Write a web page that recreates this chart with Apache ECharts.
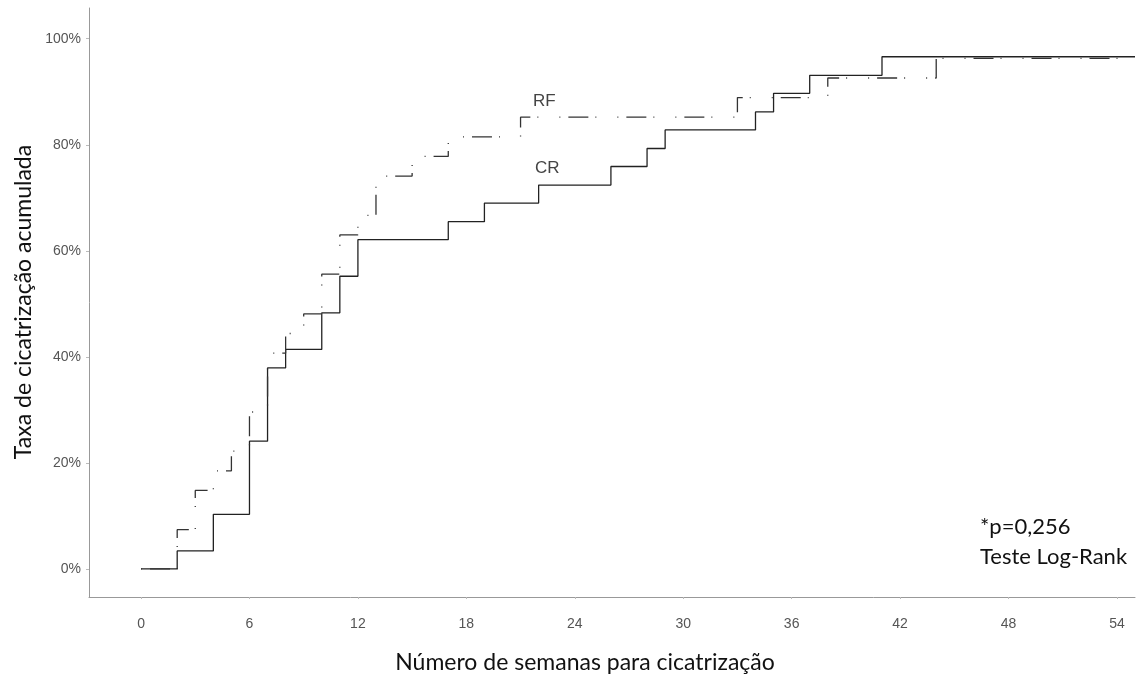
<!DOCTYPE html>
<html>
<head>
<meta charset="utf-8">
<script src="https://cdn.jsdelivr.net/npm/echarts@6/dist/echarts.min.js"></script>
<style>html,body{margin:0;padding:0;background:#fff;}#c{width:1139px;height:676px;}</style>
</head>
<body>
<div id="c"></div>
<script>
// Weeks at which each curve steps, and cumulative healing rate (%) after the step
const crWeeks = [0, 2, 4, 6, 7, 8, 10, 11, 12, 17, 19, 22, 26, 28, 29, 34, 35, 37, 41, 55];
const crRate  = [0, 3.4, 10.3, 24.1, 37.9, 41.4, 48.3, 55.2, 62.1, 65.5, 69.0, 72.4, 75.9, 79.3, 82.8, 86.2, 89.7, 93.1, 96.6, 96.6];
const rfWeeks = [0, 2, 3, 4, 5, 6, 7, 8, 9, 10, 11, 12, 13, 15, 17, 21, 33, 38, 44, 55];
const rfRate  = [0, 7.4, 14.8, 18.5, 22.2, 29.6, 40.7, 44.4, 48.1, 55.6, 63.0, 66.7, 74.1, 77.8, 81.5, 85.2, 88.9, 92.6, 96.3, 96.3];
const xTicks = [0, 6, 12, 18, 24, 30, 36, 42, 48, 54];
const yTicks = [0, 20, 40, 60, 80, 100];
const seriesNames = ['CR', 'RF'];
const xTitle = 'Número de semanas para cicatrização';
const yTitle = 'Taxa de cicatrização acumulada';
const noteLines = ['*p=0,256', 'Teste Log-Rank'];

const pair = (xs, ys) => xs.map((x, i) => [x, ys[i]]);

const chart = echarts.init(document.getElementById('c'), null, {renderer: 'canvas'});
const axisFont = {fontFamily: 'Liberation Sans', fontSize: 14, color: '#555'};
const titleFont = {fontFamily: 'Lato', fontSize: 23, fill: '#111', align: 'center', verticalAlign: 'middle'};
chart.setOption({
  animation: false,
  backgroundColor: '#fff',
  grid: {left: 89, right: 4, top: 8, bottom: 79, containLabel: false, outerBoundsMode: 'none'},
  xAxis: {
    type: 'value', min: -2.88, max: 55,
    axisLine: {show: true, onZero: false, lineStyle: {color: '#999', width: 1}},
    axisTick: {show: true, length: 2, customValues: xTicks, lineStyle: {color: '#bbb'}},
    axisLabel: Object.assign({customValues: xTicks, margin: 20}, axisFont),
    splitLine: {show: false}
  },
  yAxis: {
    type: 'value', min: -5.3, max: 105.8,
    axisLine: {show: true, onZero: false, lineStyle: {color: '#999', width: 1}},
    axisTick: {show: true, length: 3, customValues: yTicks, lineStyle: {color: '#bbb'}},
    axisLabel: Object.assign({customValues: yTicks, margin: 8, formatter: '{value}%'}, axisFont),
    splitLine: {show: false}
  },
  series: [
    {
      name: seriesNames[0], type: 'line', step: 'end', symbol: 'none',
      data: pair(crWeeks, crRate),
      lineStyle: {color: '#222', width: 1.3}
    },
    {
      name: seriesNames[1], type: 'line', step: 'end', symbol: 'none',
      data: pair(rfWeeks, rfRate),
      lineStyle: {color: '#333', width: 1.3, type: [1, 8, 20, 7, 1, 21]}
    }
  ],
  graphic: [
    {type: 'text', x: 585, y: 663, style: Object.assign({text: xTitle}, titleFont)},
    {type: 'text', x: 24, y: 302, rotation: Math.PI / 2, style: Object.assign({text: yTitle}, titleFont)},
    {type: 'text', left: 533, top: 93, style: {text: seriesNames[1], fontFamily: 'Liberation Sans', fontSize: 17, fill: '#444'}},
    {type: 'text', left: 535, top: 160, style: {text: seriesNames[0], fontFamily: 'Liberation Sans', fontSize: 17, fill: '#444'}},
    {type: 'text', left: 980, top: 512, style: {text: noteLines.join('\n'), fontFamily: 'Lato', fontSize: 22, lineHeight: 30, fill: '#111'}}
  ]
});
</script>
</body>
</html>
